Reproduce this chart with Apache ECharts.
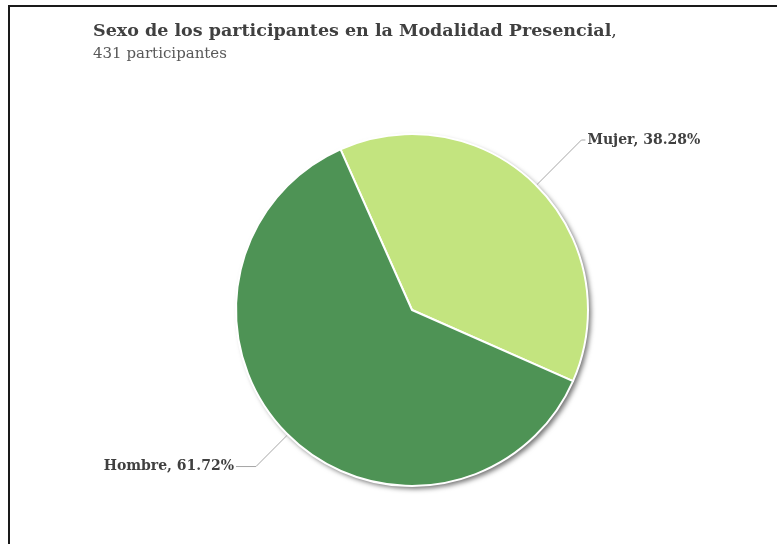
<!DOCTYPE html>
<html>
<head>
<meta charset="utf-8">
<script src="https://cdn.jsdelivr.net/npm/echarts@6/dist/echarts.min.js"></script>
<style>
  html, body { margin: 0; padding: 0; background: #fff; overflow: hidden; }
  #frame { position: absolute; left: 8px; top: 5px; width: 800px; height: 600px; border-left: 2px solid #1a1a1a; border-top: 2px solid #1a1a1a; }
  #chart { position: absolute; left: 0; top: 0; width: 777px; height: 544px; }
</style>
</head>
<body>
<div id="frame"></div>
<div id="chart"></div>
<script>
// datos
const categorias = ['Mujer', 'Hombre'];
const porcentajes = [38.28, 61.72];
const colores = ['#c3e47f', '#4e9355'];
const tituloTexto = 'Sexo de los participantes en la Modalidad Presencial';
const subtituloTexto = '431 participantes';

const fuente = '"DejaVu Serif", serif';

// largo de las guías de etiqueta [radial, horizontal]
const guias = [[64, 4], [45, 20]];

const chart = echarts.init(document.getElementById('chart'));

const option = {
  animation: false,
  title: {
    text: '{b|' + tituloTexto + '},',
    subtext: subtituloTexto,
    left: 88,
    top: 17,
    itemGap: 7,
    textStyle: {
      fontFamily: fuente,
      fontSize: 17.5,
      fontWeight: 'normal',
      color: '#404040',
      rich: {
        b: { fontFamily: fuente, fontSize: 17.5, fontWeight: 'bold', color: '#404040' }
      }
    },
    subtextStyle: {
      fontFamily: fuente,
      fontSize: 15,
      color: '#595959'
    }
  },
  series: [
    {
      // sombra del pastel
      type: 'pie',
      silent: true,
      center: [412, 310],
      radius: 176,
      data: [{ value: 1, itemStyle: { color: '#fff' } }],
      itemStyle: {
        shadowBlur: 5,
        shadowOffsetX: 3,
        shadowOffsetY: 3,
        shadowColor: 'rgba(0,0,0,0.55)'
      },
      label: { show: false },
      labelLine: { show: false },
      emphasis: { disabled: true },
      z: 1
    },
    {
      type: 'pie',
      center: [412, 310],
      radius: 176,
      startAngle: 114,
      clockwise: true,
      z: 2,
      data: categorias.map((c, i) => ({
        name: c,
        value: porcentajes[i],
        itemStyle: { color: colores[i] },
        labelLine: { length: guias[i][0], length2: guias[i][1] }
      })),
      itemStyle: {
        borderColor: '#fff',
        borderWidth: 2
      },
      label: {
        show: true,
        formatter: (p) => p.name + ', ' + p.value.toFixed(2) + '%',
        fontFamily: fuente,
        fontSize: 14,
        fontWeight: 'bold',
        color: '#404040',
        distanceToLabelLine: 2
      },
      labelLine: {
        show: true,
        lineStyle: { color: '#a6a6a6', width: 1 }
      },
      emphasis: { disabled: true }
    }
  ]
};

chart.setOption(option);
</script>
</body>
</html>
